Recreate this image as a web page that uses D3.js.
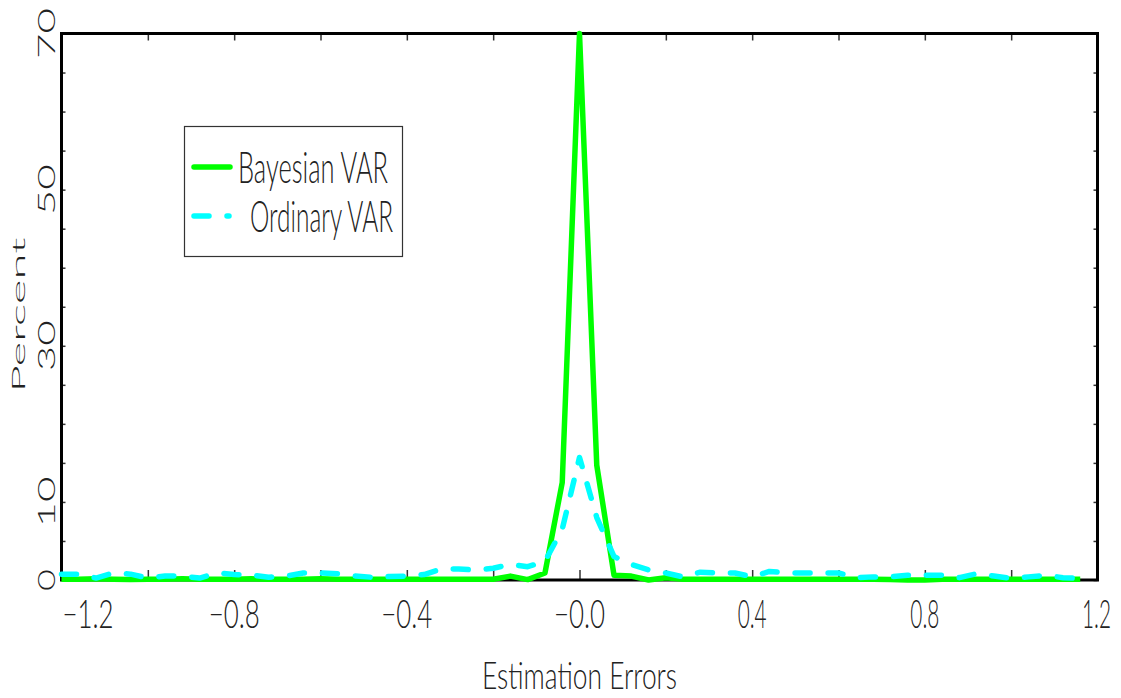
<!DOCTYPE html>
<html>
<head>
<meta charset="utf-8">
<script src="https://cdn.jsdelivr.net/npm/d3@7/dist/d3.min.js"></script>
<style>
  body { margin: 0; background: #fff; }
  svg { display: block; }
  text { font-family: Lato, Roboto, "DejaVu Sans", sans-serif; font-weight: 300; fill: #222; }
</style>
</head>
<body>
<script>
var width = 1121, height = 698;
var left = 61.5, right = 1097.5, top_y = 33.5, bottom_y = 580;

// bin centres of the error histogram
var errors = [-1.20, -1.16, -1.12, -1.08, -1.04, -1.00, -0.96, -0.92, -0.88, -0.84,
              -0.80, -0.76, -0.72, -0.68, -0.64, -0.60, -0.56, -0.52, -0.48, -0.44,
              -0.40, -0.36, -0.32, -0.28, -0.24, -0.20, -0.16, -0.12, -0.08, -0.04,
               0.00,  0.04,  0.08,  0.12,  0.16,  0.20,  0.24,  0.28,  0.32,  0.36,
               0.40,  0.44,  0.48,  0.52,  0.56,  0.60,  0.64,  0.68,  0.72,  0.76,
               0.80,  0.84,  0.88,  0.92,  0.96,  1.00,  1.04,  1.08,  1.12,  1.16];

var bayesian = [0.10, 0.10, 0.15, 0.10, 0.05, 0.10, 0.10, 0.15, 0.10, 0.10,
                0.10, 0.15, 0.10, 0.10, 0.10, 0.15, 0.10, 0.10, 0.10, 0.10,
                0.10, 0.10, 0.10, 0.10, 0.10, 0.10, 0.50, 0.05, 0.90, 12.5,
                70.0, 14.7, 0.60, 0.50, 0.00, 0.30, 0.10, 0.10, 0.10, 0.10,
                0.10, 0.10, 0.10, 0.10, 0.10, 0.10, 0.10, 0.10, 0.05, 0.00,
                0.00, 0.10, 0.10, 0.10, 0.10, 0.10, 0.10, 0.10, 0.10, 0.10];

var ordinary = [0.73, 0.73, 0.25, 0.90, 0.75, 0.25, 0.50, 0.50, 0.25, 0.90,
                0.70, 0.65, 0.35, 0.50, 0.90, 0.90, 0.80, 0.50, 0.35, 0.45,
                0.50, 0.70, 1.40, 1.40, 1.30, 1.50, 2.00, 1.70, 2.40, 6.50,
                15.7, 8.00, 3.00, 2.00, 1.30, 0.90, 0.40, 1.00, 0.90, 0.90,
                0.40, 1.10, 0.90, 0.90, 0.90, 0.90, 0.30, 0.40, 0.40, 0.60,
                0.60, 0.60, 0.30, 0.80, 0.50, 0.20, 0.40, 0.60, 0.30, 0.20];

var x_minor = [-1.2, -1.0, -0.8, -0.6, -0.4, -0.2, 0.0, 0.2, 0.4, 0.6, 0.8, 1.0, 1.2];
var x_labels = [-1.2, -0.8, -0.4, 0.0, 0.4, 0.8, 1.2];
var x_label_text = ['\u22121.2', '\u22120.8', '\u22120.4', '\u22120.0', '0.4', '0.8', '1.2'];
var y_minor = [0, 5, 10, 15, 20, 25, 30, 35, 40, 45, 50, 55, 60, 65, 70];
var y_labels = [0, 10, 30, 50, 70];

var series_names = ['Bayesian VAR', 'Ordinary VAR'];

var x = d3.scaleLinear().domain([-1.2, 1.2]).range([left, right]);
var y = d3.scaleLinear().domain([0, 70]).range([bottom_y, top_y]);

var svg = d3.select("body").append("svg")
	.attr("width", width)
	.attr("height", height);

// tick marks, all pointing into the plot
svg.append("g")
	.attr("transform", "translate(0," + bottom_y + ")")
	.call(d3.axisBottom(x).tickValues(x_minor).tickSize(-10).tickFormat(""))
	.call(function(g) { g.select(".domain").remove(); });
svg.append("g")
	.attr("transform", "translate(0," + top_y + ")")
	.call(d3.axisTop(x).tickValues(x_minor).tickSize(-7).tickFormat(""))
	.call(function(g) { g.select(".domain").remove(); });
svg.append("g")
	.attr("transform", "translate(" + left + ",0)")
	.call(d3.axisLeft(y).tickValues(y_minor).tickSize(-4).tickFormat(""))
	.call(function(g) { g.select(".domain").remove(); });
svg.append("g")
	.attr("transform", "translate(" + right + ",0)")
	.call(d3.axisRight(y).tickValues(y_minor).tickSize(-4).tickFormat(""))
	.call(function(g) { g.select(".domain").remove(); });
svg.selectAll(".tick line").attr("stroke", "#333").attr("stroke-width", 1.5);

// frame
svg.append("rect")
	.attr("x", left)
	.attr("y", top_y)
	.attr("width", right - left)
	.attr("height", bottom_y - top_y)
	.attr("fill", "none")
	.attr("stroke", "#000")
	.attr("stroke-width", 3);

// x tick labels
svg.selectAll(".xlab")
	.data(x_labels)
	.enter()
	.append("text")
	.attr("class", "xlab")
	.attr("x", function(d, i) { return i == 0 ? x(d) + 1 : (i == x_labels.length - 1 ? x(d) - 1 : x(d)) })
	.attr("y", 628)
	.attr("font-size", 39)
	.attr("text-anchor", function(d, i) { return i == 0 ? "start" : "middle" })
	.attr("textLength", function(d, i) { return x_label_text[i].length == 4 ? 51 : 29 })
	.attr("lengthAdjust", "spacingAndGlyphs")
	.text(function(d, i) { return x_label_text[i] });

// y tick labels, rotated
svg.selectAll(".ylab")
	.data(y_labels)
	.enter()
	.append("text")
	.attr("class", "ylab")
	.attr("transform", function(d) { return "translate(55," + y(d) + ") rotate(-90)" })
	.attr("font-size", 24)
	.attr("text-anchor", "middle")
	.attr("textLength", function(d) { return d < 10 ? 22 : 51 })
	.attr("lengthAdjust", "spacingAndGlyphs")
	.text(function(d) { return d });

// axis titles
svg.append("text")
	.attr("x", (left + right) / 2)
	.attr("y", 689)
	.attr("font-size", 38)
	.attr("text-anchor", "middle")
	.attr("textLength", 195)
	.attr("lengthAdjust", "spacingAndGlyphs")
	.text("Estimation Errors");

svg.append("text")
	.attr("transform", "translate(25,315) rotate(-90)")
	.attr("font-size", 18)
	.attr("text-anchor", "middle")
	.attr("textLength", 155)
	.attr("lengthAdjust", "spacingAndGlyphs")
	.text("Percent");

// lines
var line_b = d3.line()
	.x(function(d, i) { return x(errors[i]) })
	.y(function(d) { return y(d) });

svg.append("path")
	.datum(bayesian)
	.attr("d", line_b)
	.attr("fill", "none")
	.attr("stroke", "#00ff00")
	.attr("stroke-width", 5.5)
	.attr("stroke-linejoin", "round");

svg.append("path")
	.datum(ordinary)
	.attr("d", line_b)
	.attr("fill", "none")
	.attr("stroke", "#00ffff")
	.attr("stroke-width", 5.5)
	.attr("stroke-linejoin", "round")
	.attr("stroke-linecap", "round")
	.attr("stroke-dasharray", "15,18");

// legend
var legend = svg.append("g");
legend.append("rect")
	.attr("x", 184.5)
	.attr("y", 126.5)
	.attr("width", 218)
	.attr("height", 130)
	.attr("fill", "#fff")
	.attr("stroke", "#333")
	.attr("stroke-width", 1.2);

var legend_colors = ['#00ff00', '#00ffff'];
var legend_dash = [null, '15,18'];
var legend_text_x = [238, 250];
var legend_text_w = [150, 143];

legend.selectAll(".legline")
	.data(series_names)
	.enter()
	.append("line")
	.attr("class", "legline")
	.attr("x1", 194)
	.attr("x2", function(d, i) { return i == 0 ? 230 : 229 })
	.attr("y1", function(d, i) { return 167 + i * 49 })
	.attr("y2", function(d, i) { return 167 + i * 49 })
	.attr("stroke", function(d, i) { return legend_colors[i] })
	.attr("stroke-width", 5.5)
	.attr("stroke-linecap", "round")
	.attr("stroke-dasharray", function(d, i) { return legend_dash[i] });

legend.selectAll(".legtext")
	.data(series_names)
	.enter()
	.append("text")
	.attr("class", "legtext")
	.attr("x", function(d, i) { return legend_text_x[i] })
	.attr("y", function(d, i) { return 183 + i * 49 })
	.attr("font-size", 43)
	.attr("textLength", function(d, i) { return legend_text_w[i] })
	.attr("lengthAdjust", "spacingAndGlyphs")
	.text(function(d) { return d });
</script>
</body>
</html>
